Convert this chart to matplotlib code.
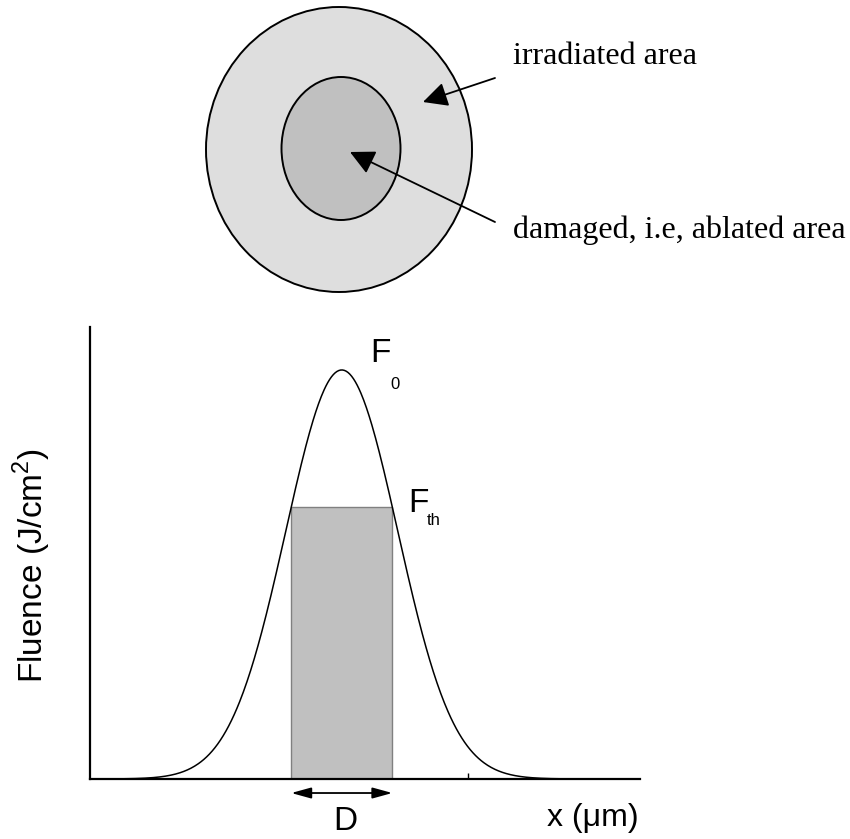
import numpy as np
import matplotlib.pyplot as plt
from matplotlib.patches import Ellipse, Rectangle

# beam profile (arbitrary units, x in units of sigma)
F0 = 1.0          # peak fluence
Fth = 0.665       # ablation threshold
sigma = 1.0
x_min, x_max = -4.5, 5.33
tick_pos = [2.25]

# spot sizes for the top sketch (pixels): centre x, centre y, width, height
outer_spot = [339, 149.5, 266, 285]
inner_spot = [341, 148.5, 119, 143]

sans = 'Liberation Sans'
plt.rcParams['mathtext.fontset'] = 'custom'
plt.rcParams['mathtext.rm'] = sans

x = np.linspace(x_min, x_max, 600)
F = F0 * np.exp(-x**2 / (2 * sigma**2))
half_D = sigma * np.sqrt(2 * np.log(F0 / Fth))

W, H = 850, 839
fig = plt.figure(figsize=(W / 100, H / 100), dpi=100)

# --- fluence profile ---
ax = fig.add_axes([90 / W, (H - 779) / H, (640 - 90) / W, (779 - 327) / H])
ax.add_patch(Rectangle((-half_D, 0), 2 * half_D, Fth, facecolor='#c0c0c0',
                       edgecolor='#808080', lw=1.0, zorder=1))
ax.plot(x, F, color='k', lw=1.1, zorder=2)
ax.set_xlim(x_min, x_max)
ax.set_ylim(0, 1.105)
for s in ['top', 'right']:
    ax.spines[s].set_visible(False)
for s in ['left', 'bottom']:
    ax.spines[s].set_linewidth(1.6)
ax.set_xticks(tick_pos)
ax.set_xticklabels([])
ax.set_yticks([])
ax.tick_params(axis='x', direction='in', length=4, width=1.0)

ax.annotate('', xy=(-half_D, -0.031), xytext=(half_D, -0.031),
            xycoords=('data', 'axes fraction'), textcoords=('data', 'axes fraction'),
            arrowprops=dict(arrowstyle='<|-|>,head_length=0.8,head_width=0.22',
                            color='k', lw=1.3, mutation_scale=15,
                            shrinkA=0, shrinkB=0))

# --- overlay in pixel coordinates ---
ov = fig.add_axes([0, 0, 1, 1])
ov.set_xlim(0, W)
ov.set_ylim(H, 0)
ov.axis('off')
ov.patch.set_alpha(0)

ov.add_patch(Ellipse(outer_spot[:2], outer_spot[2], outer_spot[3],
                     facecolor='#dedede', edgecolor='k', lw=1.4))
ov.add_patch(Ellipse(inner_spot[:2], inner_spot[2], inner_spot[3],
                     facecolor='#c0c0c0', edgecolor='k', lw=1.4))

arrow = dict(arrowstyle='-|>,head_length=0.6,head_width=0.3', color='k',
             lw=1.3, mutation_scale=25, shrinkA=0, shrinkB=0)
ov.annotate('', xy=(423, 102), xytext=(495, 78), arrowprops=arrow)
ov.annotate('', xy=(350, 152), xytext=(495, 222), arrowprops=arrow)

serif = dict(family='Liberation Serif', fontsize=23, va='center', ha='left')
ov.text(513, 57, 'irradiated area', **serif)
ov.text(513, 230, 'damaged, i.e, ablated area', **serif)

ov.text(370, 362, 'F', family=sans, fontsize=24, ha='left', va='baseline')
ov.text(390, 389, '0', family=sans, fontsize=12, ha='left', va='baseline')
ov.text(408, 512, 'F', family=sans, fontsize=24, ha='left', va='baseline')
ov.text(427, 525, 'th', family=sans, fontsize=12, ha='left', va='baseline')

ov.text(345, 822, 'D', family=sans, fontsize=24, ha='center', va='center')
ov.text(547, 818, 'x (\u03bcm)', family=sans, fontsize=23, ha='left', va='center')
ov.text(32, 566, 'Fluence (J/cm$^{2}$)', family=sans, fontsize=24,
        rotation=90, ha='center', va='center')

fig.savefig('out.png', dpi=100)
